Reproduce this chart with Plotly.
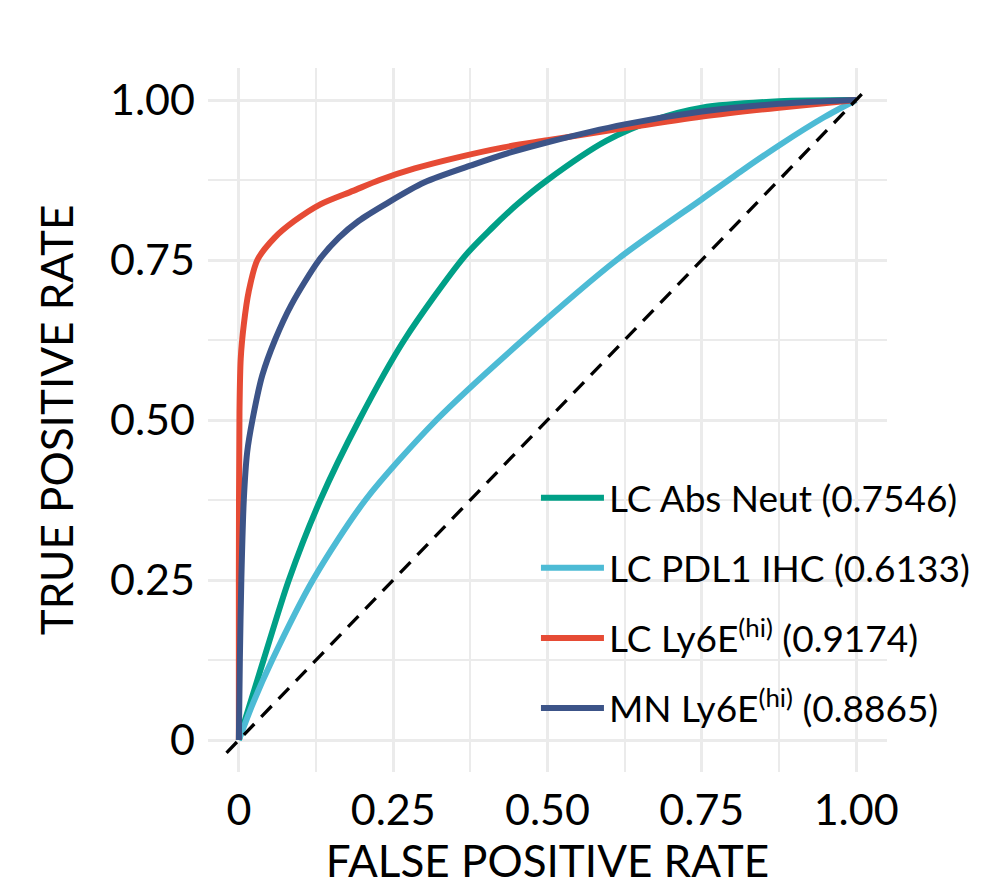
import plotly.graph_objects as go

# ROC curves
names = [
    "LC Abs Neut (0.7546)",
    "LC PDL1 IHC (0.6133)",
    "LC Ly6E<sup>(hi)</sup> (0.9174)",
    "MN Ly6E<sup>(hi)</sup> (0.8865)",
]
colors = ["#00A087", "#4DBBD5", "#E64B35", "#3C5488"]

fpr_abs_neut = [0, 0.04, 0.081, 0.132, 0.195, 0.268, 0.365, 0.41, 0.451, 0.5, 0.595, 0.677, 0.75, 0.875, 1.0]
tpr_abs_neut = [0, 0.125, 0.25, 0.375, 0.5, 0.625, 0.755, 0.8, 0.837, 0.875, 0.936, 0.97, 0.988, 0.998, 1.0]

fpr_pdl1 = [0, 0.024, 0.054, 0.12, 0.205, 0.32, 0.46, 0.612, 0.75, 0.8125, 0.875, 0.948, 1.0]
tpr_pdl1 = [0, 0.06, 0.125, 0.25, 0.375, 0.5, 0.625, 0.75, 0.845, 0.888, 0.929, 0.973, 1.0]

fpr_lc_ly6e = [0, 0.0, 0.001, 0.003, 0.008, 0.016, 0.030, 0.058, 0.09, 0.132, 0.185, 0.228, 0.285,
               0.353, 0.429, 0.5, 0.625, 0.75, 0.875, 1.0]
tpr_lc_ly6e = [0, 0.25, 0.513, 0.596, 0.649, 0.701, 0.75, 0.785, 0.811, 0.837, 0.858, 0.875, 0.893,
               0.91, 0.926, 0.937, 0.956, 0.974, 0.988, 1.0]

fpr_mn_ly6e = [0, 0.0016, 0.004, 0.008, 0.0135, 0.022, 0.038, 0.0585, 0.085, 0.13, 0.162, 0.194,
               0.237, 0.30, 0.38, 0.44, 0.5, 0.625, 0.75, 0.875, 1.0]
tpr_mn_ly6e = [0, 0.125, 0.25, 0.375, 0.45, 0.5, 0.57, 0.625, 0.68, 0.75, 0.785, 0.811,
               0.837, 0.871, 0.899, 0.918, 0.934, 0.962, 0.982, 0.994, 1.0]

chance_line = [-0.02, 1.01]

tick_vals = [0, 0.25, 0.5, 0.75, 1.0]
tick_text = ["0", "0.25", "0.50", "0.75", "1.00"]

curves = [
    (fpr_abs_neut, tpr_abs_neut),
    (fpr_pdl1, tpr_pdl1),
    (fpr_lc_ly6e, tpr_lc_ly6e),
    (fpr_mn_ly6e, tpr_mn_ly6e),
]

fig = go.Figure()
for i, (fx, fy) in enumerate(curves):
    fig.add_trace(go.Scatter(
        x=fx, y=fy, mode="lines", name=names[i],
        legendgroup=str(i),
        line=dict(color=colors[i], width=6, shape="spline", smoothing=0.8),
    ))

# chance diagonal
fig.add_trace(go.Scatter(
    x=chance_line, y=chance_line, mode="lines", showlegend=False,
    line=dict(color="black", width=3.3, dash="15px,10px"),
))

axis_common = dict(
    range=[-0.05, 1.05],
    tickvals=tick_vals,
    ticktext=tick_text,
    showgrid=True,
    gridcolor="#EBEBEB",
    gridwidth=3,
    zeroline=False,
    showline=False,
    ticks="",
    tickfont=dict(size=43, color="black"),
    minor=dict(dtick=0.125, tick0=0, showgrid=True, gridcolor="#EBEBEB", gridwidth=2),
)

fig.update_layout(
    width=981, height=881,
    margin=dict(l=200, r=102, t=60, b=117),
    paper_bgcolor="white",
    plot_bgcolor="white",
    font=dict(family="Lato", color="black"),
    xaxis=dict(axis_common, ticklabelstandoff=9,
               title=dict(text="FALSE POSITIVE RATE", font=dict(size=44), standoff=12)),
    yaxis=dict(axis_common, ticklabelstandoff=12,
               title=dict(text="TRUE POSITIVE RATE", font=dict(size=44), standoff=22)),
    legend=dict(
        x=0.483, y=0.433, xanchor="left", yanchor="top",
        bgcolor="rgba(0,0,0,0)",
        font=dict(size=37),
        tracegroupgap=19,
        itemwidth=63,
    ),
    showlegend=True,
)

fig.write_html("out.html")
